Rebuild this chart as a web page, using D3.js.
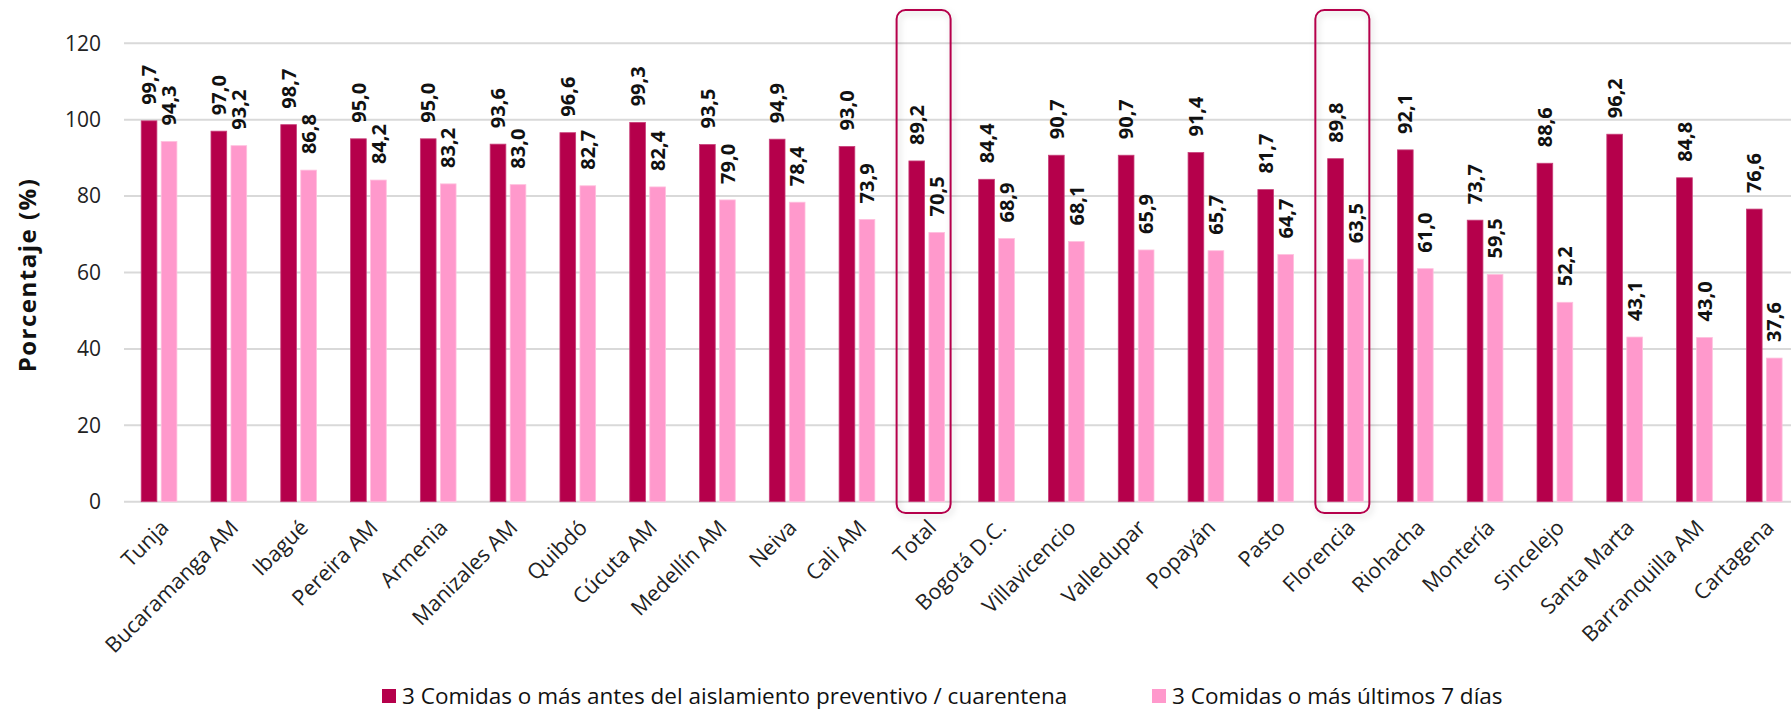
<!DOCTYPE html>
<html>
<head>
<meta charset="utf-8">
<script src="https://cdn.jsdelivr.net/npm/d3@7"></script>
<style>
  body { margin: 0; background: #fff; }
  text { font-family: "Open Sans", "Noto Sans", sans-serif; }
</style>
</head>
<body>
<div id="chart"></div>
<script>
var categories = ["Tunja", "Bucaramanga AM", "Ibagué", "Pereira AM", "Armenia", "Manizales AM",
    "Quibdó", "Cúcuta AM", "Medellín AM", "Neiva", "Cali AM", "Total", "Bogotá D.C.",
    "Villavicencio", "Valledupar", "Popayán", "Pasto", "Florencia", "Riohacha", "Montería",
    "Sincelejo", "Santa Marta", "Barranquilla AM", "Cartagena"];
var antes = [99.7, 97.0, 98.7, 95.0, 95.0, 93.6, 96.6, 99.3, 93.5, 94.9, 93.0, 89.2,
    84.4, 90.7, 90.7, 91.4, 81.7, 89.8, 92.1, 73.7, 88.6, 96.2, 84.8, 76.6];
var ultimos = [94.3, 93.2, 86.8, 84.2, 83.2, 83.0, 82.7, 82.4, 79.0, 78.4, 73.9, 70.5,
    68.9, 68.1, 65.9, 65.7, 64.7, 63.5, 61.0, 59.5, 52.2, 43.1, 43.0, 37.6];
var yTicks = [0, 20, 40, 60, 80, 100, 120];
var seriesNames = ["3 Comidas o más antes del aislamiento preventivo / cuarentena",
    "3 Comidas o más últimos 7 días"];
var highlighted = ["Total", "Florencia"];

var width = 1791, height = 710;
var colors = ["#b5004b", "#ff99cc"];

var svg = d3.select("#chart").append("svg")
    .attr("width", width)
    .attr("height", height);

var defs = svg.append("defs");
var shadow = defs.append("filter").attr("id", "shadow")
    .attr("x", "-30%").attr("y", "-10%").attr("width", "160%").attr("height", "120%");
shadow.append("feDropShadow")
    .attr("dx", 2).attr("dy", 3).attr("stdDeviation", 3)
    .attr("flood-color", "#000").attr("flood-opacity", 0.18);

var x = d3.scaleBand()
    .domain(categories)
    .range([124, 1799]);

var y = d3.scaleLinear()
    .domain([0, 120])
    .range([501.7, 43.3]);

// grid
svg.append("g")
    .selectAll("line")
    .data(yTicks)
    .enter().append("line")
    .attr("x1", 124)
    .attr("x2", width)
    .attr("y1", function(d) { return y(d); })
    .attr("y2", function(d) { return y(d); })
    .style("stroke", "#d9d9d9")
    .style("stroke-width", 2);

// y axis labels
var yAxis = svg.append("g")
    .attr("transform", "translate(124,0)")
    .call(d3.axisLeft(y).tickValues(yTicks).tickSize(0).tickPadding(23));
yAxis.select(".domain").remove();
yAxis.selectAll("text")
    .style("font-family", "'Open Sans', sans-serif")
    .style("font-size", "21px")
    .style("fill", "#222");

svg.append("text")
    .attr("transform", "translate(36," + 275 + ") rotate(-90)")
    .attr("text-anchor", "middle")
    .style("font-size", "24px")
    .style("letter-spacing", "1.5px")
    .style("font-weight", "bold")
    .style("fill", "#111")
    .text("Porcentaje (%)");

var barW = 15.7;
var offsets = [-17.7, 2.3];
var series = [antes, ultimos];

series.forEach(function(vals, s) {
    var g = svg.append("g");
    g.selectAll("rect")
        .data(vals)
        .enter().append("rect")
        .attr("x", function(d, i) { return x(categories[i]) + x.bandwidth() / 2 + offsets[s]; })
        .attr("y", function(d) { return y(d); })
        .attr("width", barW)
        .attr("height", function(d) { return y(0) - y(d); })
        .style("fill", colors[s])
        .style("stroke", s === 0 ? "#c8407a" : "#ffc0de")
        .style("stroke-width", 0.8);

    g.selectAll("text")
        .data(vals)
        .enter().append("text")
        .attr("transform", function(d, i) {
            var cx = x(categories[i]) + x.bandwidth() / 2 + offsets[s] + barW / 2;
            return "translate(" + cx + "," + (y(d) - 16) + ") rotate(-90)";
        })
        .attr("dy", "0.36em")
        .style("font-size", "20px")
        .style("font-weight", "bold")
        .style("fill", "#111")
        .text(function(d) { return d.toFixed(1).replace(".", ","); });
});

// category labels
svg.append("g")
    .selectAll("text")
    .data(categories)
    .enter().append("text")
    .attr("transform", function(d) {
        var cx = x(d) + x.bandwidth() / 2;
        return "translate(" + (cx + 11) + "," + 529 + ") rotate(-45)";
    })
    .attr("text-anchor", "end")
    .style("font-size", "21.5px")
    .style("fill", "#222")
    .text(function(d) { return d; });

// highlight boxes
svg.append("g")
    .selectAll("rect")
    .data(highlighted)
    .enter().append("rect")
    .attr("x", function(d) { return x(d) + x.bandwidth() / 2 - 30; })
    .attr("y", 10)
    .attr("width", 54)
    .attr("height", 503)
    .attr("rx", 9)
    .style("fill", "none")
    .style("stroke", "#b5004b")
    .style("stroke-width", 2)
    .attr("filter", "url(#shadow)");

// legend
var legendX = [382, 1152];
var legend = svg.append("g")
    .selectAll("g")
    .data(seriesNames)
    .enter().append("g")
    .attr("transform", function(d, i) { return "translate(" + legendX[i] + ",689)"; });
legend.append("rect")
    .attr("width", 14)
    .attr("height", 14)
    .style("fill", function(d, i) { return colors[i]; });
legend.append("text")
    .attr("x", 20)
    .attr("y", 7)
    .attr("dy", "0.35em")
    .style("font-size", "22.5px")
    .style("fill", "#111")
    .text(function(d) { return d; });
</script>
</body>
</html>
